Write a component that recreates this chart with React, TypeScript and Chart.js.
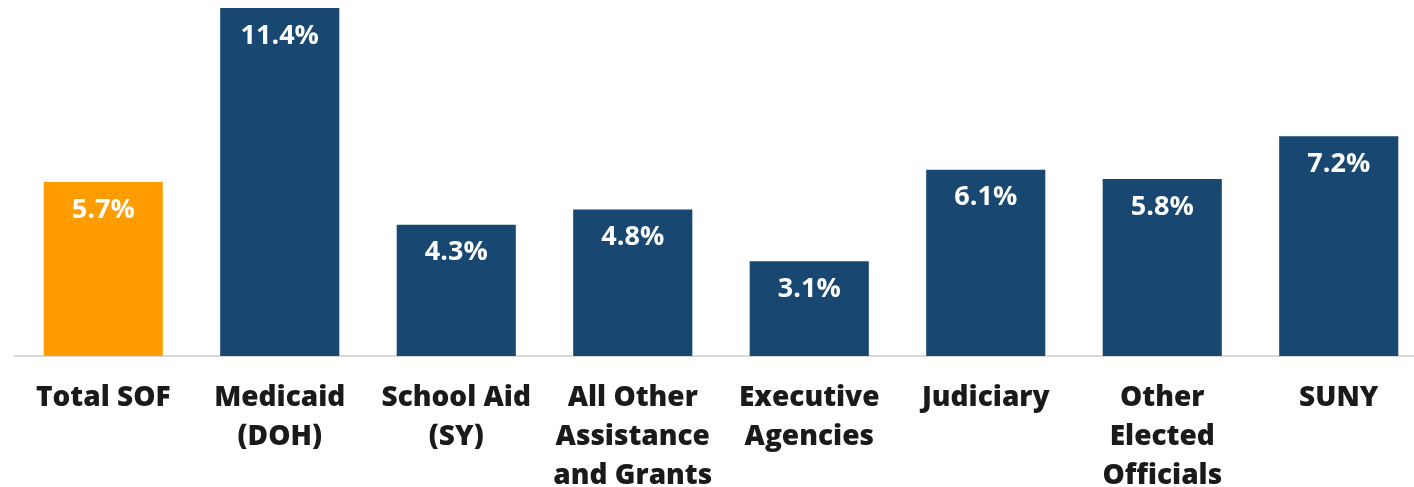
import React, { useEffect, useRef } from "react";
import { Chart, registerables } from "chart.js";

Chart.register(...registerables);

const categories: string[][] = [
  ["Total SOF"],
  ["Medicaid", "(DOH)"],
  ["School Aid", "(SY)"],
  ["All Other", "Assistance", "and Grants"],
  ["Executive", "Agencies"],
  ["Judiciary"],
  ["Other", "Elected", "Officials"],
  ["SUNY"],
];
const growthValues: number[] = [5.7, 11.4, 4.3, 4.8, 3.1, 6.1, 5.8, 7.2];
const barColors: string[] = ["#FF9D00", "#184872", "#184872", "#184872", "#184872", "#184872", "#184872", "#184872"];

const FONT = "'Open Sans', 'Lato', sans-serif";

const valueLabelPlugin = {
  id: "valueLabels",
  afterDatasetsDraw(chart: any) {
    const ctx = chart.ctx;
    const meta = chart.getDatasetMeta(0);
    ctx.save();
    ctx.fillStyle = "#ffffff";
    ctx.font = `700 27px ${FONT}`;
    ctx.textAlign = "center";
    ctx.textBaseline = "middle";
    meta.data.forEach((bar: any, i: number) => {
      const v = growthValues[i];
      ctx.fillText(v.toFixed(1) + "%", bar.x, bar.y + 28);
    });
    ctx.restore();
  },
};

export default function App() {
  const ref = useRef<HTMLCanvasElement | null>(null);
  useEffect(() => {
    if (!ref.current) return;
    const chart = new Chart(ref.current, {
      type: "bar",
      data: {
        labels: categories,
        datasets: [
          {
            data: growthValues,
            backgroundColor: barColors,
            borderWidth: 0,
            categoryPercentage: 1,
            barPercentage: 0.675,
          },
        ],
      },
      options: {
        animation: false,
        responsive: false,
        maintainAspectRatio: false,
        layout: { padding: { left: 15, right: 4, top: 8, bottom: 0 } },
        plugins: { legend: { display: false }, tooltip: { enabled: false } },
        scales: {
          x: {
            grid: { display: false, drawTicks: false },
            border: { display: true, color: "#d9d9d9", width: 2 },
            ticks: {
              color: "#1a1a1a",
              font: { family: FONT, size: 28, weight: 800, lineHeight: 1.39 },
              padding: 23,
              maxRotation: 0,
              autoSkip: false,
            },
            afterFit: (axis: any) => {
              axis.height = 131;
            },
          },
          y: {
            display: false,
            min: 0,
            max: 11.4,
          },
        },
      },
      plugins: [valueLabelPlugin],
    });
    return () => chart.destroy();
  }, []);
  return (
    <div style={{ position: "absolute", left: 0, top: 0, width: 1414, height: 487, overflow: "hidden", background: "#fff" }}>
      <canvas ref={ref} width={1431} height={487} style={{ width: 1431, height: 487, display: "block" }} />
    </div>
  );
}
